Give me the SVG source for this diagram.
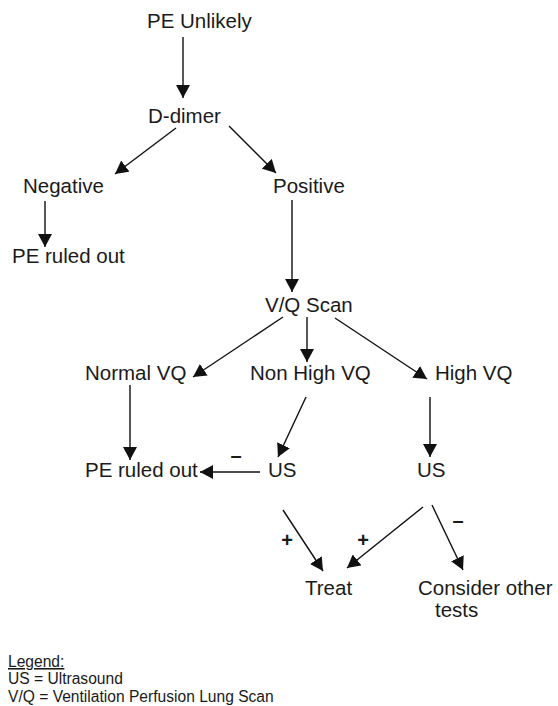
<svg xmlns="http://www.w3.org/2000/svg" width="558" height="706" viewBox="0 0 558 706">
  <defs>
    <marker id="arrow" markerUnits="userSpaceOnUse" markerWidth="14" markerHeight="14" refX="13" refY="7" orient="auto">
      <path d="M0,0 L13,7 L0,14 z" fill="#111"/>
    </marker>
    <style>
      text { font-family: "Liberation Sans", Arial, sans-serif; fill: #1a1a1a; }
      .n { font-size: 20.5px; }
      .sign { font-size: 20px; font-weight: bold; }
      .leg { font-size: 15.6px; }
      .c line { stroke: #111; stroke-width: 1.4; marker-end: url(#arrow); }
    </style>
  </defs>
  <rect width="558" height="706" fill="#fff"/>

  <g id="connectors" class="c">
    <line x1="183" y1="37" x2="183" y2="98"/>
    <line x1="176" y1="128" x2="115" y2="174"/>
    <line x1="229" y1="126" x2="276" y2="173"/>
    <line x1="45" y1="201" x2="45" y2="247"/>
    <line x1="292" y1="200" x2="292" y2="292"/>
    <line x1="283" y1="317" x2="193" y2="377"/>
    <line x1="307" y1="317" x2="307" y2="362"/>
    <line x1="335" y1="318" x2="427" y2="379"/>
    <line x1="130" y1="385" x2="130" y2="460"/>
    <line x1="306" y1="397" x2="278" y2="457"/>
    <line x1="430" y1="397" x2="430" y2="457"/>
    <line x1="260" y1="472" x2="200" y2="472"/>
    <line x1="283" y1="510" x2="323" y2="571"/>
    <line x1="423" y1="507" x2="347" y2="568"/>
    <line x1="432" y1="505" x2="463" y2="570"/>
  </g>

  <g id="edge-labels">
    <text class="sign" x="236" y="462" text-anchor="middle">–</text>
    <text class="sign" x="458" y="527" text-anchor="middle">–</text>
    <text class="sign" x="287" y="547" text-anchor="middle">+</text>
    <text class="sign" x="363" y="547" text-anchor="middle">+</text>
  </g>

  <g id="pe-unlikely"><text class="n" x="147" y="28">PE Unlikely</text></g>
  <g id="d-dimer"><text class="n" x="148" y="123">D-dimer</text></g>
  <g id="negative"><text class="n" x="23" y="193">Negative</text></g>
  <g id="positive"><text class="n" x="273" y="193">Positive</text></g>
  <g id="pe-ruled-out-1"><text class="n" x="12" y="263">PE ruled out</text></g>
  <g id="vq-scan"><text class="n" x="265" y="312">V/Q Scan</text></g>
  <g id="normal-vq"><text class="n" x="85" y="380">Normal VQ</text></g>
  <g id="non-high-vq"><text class="n" x="250" y="380">Non High VQ</text></g>
  <g id="high-vq"><text class="n" x="435" y="380">High VQ</text></g>
  <g id="pe-ruled-out-2"><text class="n" x="85" y="477">PE ruled out</text></g>
  <g id="us-1"><text class="n" x="268" y="477">US</text></g>
  <g id="us-2"><text class="n" x="417" y="477">US</text></g>
  <g id="treat"><text class="n" x="305" y="595">Treat</text></g>
  <g id="consider"><text class="n" x="418" y="595">Consider other</text><text class="n" x="435" y="617">tests</text></g>

  <g id="legend">
    <text class="leg" x="8" y="667" text-decoration="underline">Legend:</text>
    <text class="leg" x="8" y="684">US = Ultrasound</text>
    <text class="leg" x="8" y="702">V/Q = Ventilation Perfusion Lung Scan</text>
  </g>
</svg>
